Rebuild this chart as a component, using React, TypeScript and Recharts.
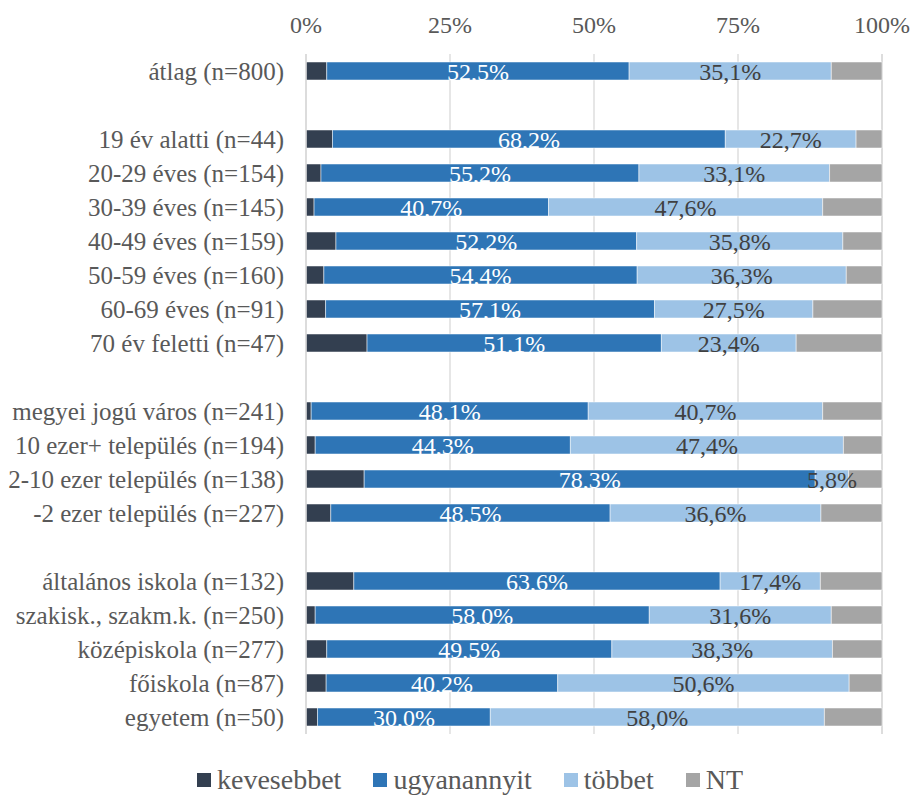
import React from 'react';
import { BarChart, Bar, XAxis, YAxis, CartesianGrid, LabelList, Legend } from 'recharts';

const categories = [
  'átlag (n=800)', ' ',
  '19 év alatti (n=44)', '20-29 éves (n=154)', '30-39 éves (n=145)', '40-49 éves (n=159)',
  '50-59 éves (n=160)', '60-69 éves (n=91)', '70 év feletti (n=47)', '  ',
  'megyei jogú város (n=241)', '10 ezer+ település (n=194)', '2-10 ezer település (n=138)', '-2 ezer település (n=227)', '   ',
  'általános iskola (n=132)', 'szakisk., szakm.k. (n=250)', 'középiskola (n=277)', 'főiskola (n=87)', 'egyetem (n=50)',
];
const kevesebbet = [3.6, null, 4.6, 2.6, 1.4, 5.2, 3.1, 3.4, 10.6, null, 0.9, 1.6, 10.1, 4.3, null, 8.3, 1.6, 3.6, 3.5, 2.0];
const ugyanannyi = [52.5, null, 68.2, 55.2, 40.7, 52.2, 54.4, 57.1, 51.1, null, 48.1, 44.3, 78.3, 48.5, null, 63.6, 58.0, 49.5, 40.2, 30.0];
const tobbet = [35.1, null, 22.7, 33.1, 47.6, 35.8, 36.3, 27.5, 23.4, null, 40.7, 47.4, 5.8, 36.6, null, 17.4, 31.6, 38.3, 50.6, 58.0];
const nt = [8.8, null, 4.5, 9.1, 10.3, 6.8, 6.2, 12.0, 14.9, null, 10.3, 6.7, 5.8, 10.6, null, 10.7, 8.8, 8.6, 5.7, 10.0];
const xTicks = [0, 25, 50, 75, 100];

const seriesKeys = ['kevesebbet', 'ugyanannyit', 'tobbet', 'NT'];
const seriesNames = ['kevesebbet', 'ugyanannyit', 'többet', 'NT'];
const seriesColors = ['#333F50', '#2E75B6', '#9DC3E6', '#A5A5A5'];

const data = categories.map((name, i) => ({
  name,
  kevesebbet: kevesebbet[i],
  ugyanannyit: ugyanannyi[i],
  tobbet: tobbet[i],
  NT: nt[i],
}));

const FONT = '"Times New Roman", "Liberation Serif", serif';

const fmt = (v: any) => (v == null || v === '' ? '' : Number(v).toFixed(1).replace('.', ',') + '%');

const XTick = (props: any) => {
  const { x, payload } = props;
  return (
    <text x={x} y={33} textAnchor="middle" fill="#595959" fontSize={24} fontFamily={FONT}>
      {payload.value}%
    </text>
  );
};

const YTick = (props: any) => {
  const { x, y, payload } = props;
  return (
    <text x={x} y={y} dy={9} textAnchor="end" fill="#595959" fontSize={25} fontFamily={FONT}>
      {payload.value}
    </text>
  );
};

const LegendContent = () => {
  return (
    <div style={{ height: 0, overflow: 'visible', position: 'relative' }}>
      <div style={{ display: 'flex', alignItems: 'center', paddingLeft: 197, fontFamily: FONT, fontSize: 28, color: '#595959', lineHeight: '30px', whiteSpace: 'nowrap' }}>
        {seriesNames.map((n, i) => (
          <div key={i} style={{ display: 'flex', alignItems: 'center', marginRight: 32 }}>
            <span style={{ display: 'inline-block', width: 14, height: 14, background: seriesColors[i], marginRight: 6 }} />
            <span>{n}</span>
          </div>
        ))}
      </div>
    </div>
  );
};

export default function App() {
  return (
    <div style={{ position: 'absolute', left: 0, top: 0, width: 910, height: 795, background: '#fff' }}>
      <BarChart
        width={910}
        height={795}
        data={data}
        layout="vertical"
        margin={{ top: 0, right: 28, bottom: 61, left: 0 }}
        barCategoryGap={8}
      >
        <CartesianGrid horizontal={false} vertical={true} stroke="#D9D9D9" strokeWidth={1.3} />
        <XAxis
          type="number"
          orientation="top"
          domain={[0, 100]}
          ticks={xTicks}
          height={54}
          axisLine={false}
          tickLine={false}
          tick={<XTick />}
          interval={0}
        />
        <YAxis
          type="category"
          dataKey="name"
          width={306}
          axisLine={{ stroke: '#D9D9D9', strokeWidth: 1.5 }}
          tickLine={false}
          tickSize={0}
          tickMargin={22}
          tick={<YTick />}
          interval={0}
        />
        <Legend
          verticalAlign="bottom"
          content={<LegendContent />}
          wrapperStyle={{ position: 'absolute', top: 765, left: 0, bottom: 'auto', width: 910, height: 0 }}
        />
        {seriesKeys.map((k, i) => (
          <Bar
            key={k}
            dataKey={k}
            name={seriesNames[i]}
            stackId="a"
            fill={seriesColors[i]}
            stroke="#ffffff"
            strokeWidth={0.5}
            isAnimationActive={false}
          >
            {i === 1 && (
              <LabelList dataKey={k} position="center" formatter={fmt} fill="#ffffff" fontSize={24} fontFamily={FONT} />
            )}
            {i === 2 && (
              <LabelList dataKey={k} position="center" formatter={fmt} fill="#404040" fontSize={24} fontFamily={FONT} />
            )}
          </Bar>
        ))}
      </BarChart>
    </div>
  );
}
